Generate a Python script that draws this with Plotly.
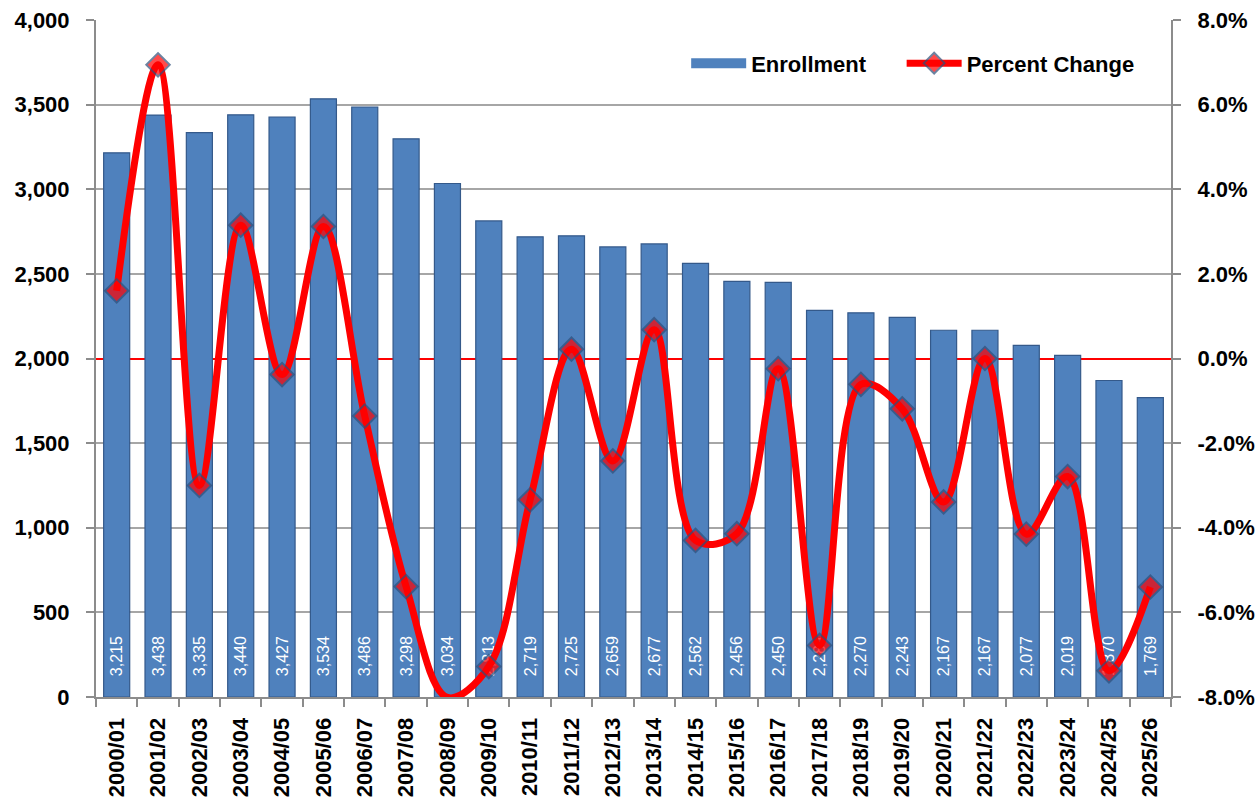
import plotly.graph_objects as go

years = ["2000/01", "2001/02", "2002/03", "2003/04", "2004/05", "2005/06", "2006/07",
         "2007/08", "2008/09", "2009/10", "2010/11", "2011/12", "2012/13", "2013/14",
         "2014/15", "2015/16", "2016/17", "2017/18", "2018/19", "2019/20", "2020/21",
         "2021/22", "2022/23", "2023/24", "2024/25", "2025/26"]
enrollment = [3215, 3438, 3335, 3440, 3427, 3534, 3486, 3298, 3034, 2813, 2719, 2725,
              2659, 2677, 2562, 2456, 2450, 2284, 2270, 2243, 2167, 2167, 2077, 2019,
              1870, 1769]
pct_change = [1.6, 6.94, -3.0, 3.15, -0.38, 3.12, -1.36, -5.39, -8.01, -7.28, -3.34, 0.22,
              -2.42, 0.68, -4.30, -4.14, -0.24, -6.78, -0.61, -1.19, -3.39, 0.0, -4.15,
              -2.79, -7.38, -5.40]
left_ticks = [0, 500, 1000, 1500, 2000, 2500, 3000, 3500, 4000]
right_ticks = [-8, -6, -4, -2, 0, 2, 4, 6, 8]
right_labels = ["-8.0%", "-6.0%", "-4.0%", "-2.0%", "0.0%", "2.0%", "4.0%", "6.0%", "8.0%"]

FONT = "Liberation Sans, Arial, sans-serif"
Y2_MIN, Y2_MAX = -8, 8
BAR_COLOR = "#4F81BD"
NBSP = "\u00a0"

fig = go.Figure()
fig.add_trace(go.Bar(
    x=years, y=enrollment, name="Enrollment", showlegend=False, legendgroup="enr",
    marker=dict(color=BAR_COLOR, line=dict(color="#34598A", width=1.2)),
    width=0.63,
    text=[NBSP * 4 + f"{v:,}" for v in enrollment],
    textposition="inside", insidetextanchor="start", textangle=-90,
    textfont=dict(color="white", size=16, family=FONT),
    constraintext="none",
    yaxis="y",
))
# legend entry styled as a wide bar swatch
fig.add_trace(go.Scatter(
    x=[None], y=[None], name="Enrollment" + NBSP * 5, legendgroup="enr", mode="lines",
    line=dict(color=BAR_COLOR, width=12), yaxis="y",
))
fig.add_trace(go.Scatter(
    x=years, y=pct_change, name="Percent Change", yaxis="y2",
    mode="lines+markers",
    line=dict(color="#FF0000", width=7, shape="spline", smoothing=1),
    marker=dict(symbol="diamond", size=[0 if v < Y2_MIN else 18 for v in pct_change],
                color="#FF0000", line=dict(color="#2F4F7A", width=2)),
))

fig.update_layout(
    width=1257, height=800,
    margin=dict(l=96, r=86, t=20, b=103),
    plot_bgcolor="white", paper_bgcolor="white",
    font=dict(family=FONT, size=22, color="black"),
    showlegend=True,
    legend=dict(orientation="h", x=0.549, xanchor="left", y=0.967, yanchor="top",
                font=dict(size=22, family=FONT, color="black", weight="bold"),
                bgcolor="rgba(0,0,0,0)", traceorder="normal", itemwidth=55),
    xaxis=dict(
        type="category", tickangle=-90, range=[-0.5, len(years) - 0.5],
        tickfont=dict(size=22, family=FONT, weight="bold"),
        showline=True, linecolor="#8C8C8C", linewidth=2,
        ticks="outside", tickson="boundaries", ticklen=8, tickcolor="#8C8C8C",
        tickwidth=2, ticklabelstandoff=10, automargin=False,
        showgrid=False,
    ),
    yaxis=dict(
        range=[0, 4000], tickvals=left_ticks, tickformat=",d",
        tickfont=dict(size=22, family=FONT, weight="bold"),
        showline=True, linecolor="#8C8C8C", linewidth=2,
        showgrid=True, gridcolor="#A6A6A6", gridwidth=1.5,
        ticks="outside", ticklen=8, tickcolor="#8C8C8C", tickwidth=2,
        ticklabelstandoff=12, automargin=False,
        zeroline=False,
    ),
    yaxis2=dict(
        overlaying="y", side="right", range=[Y2_MIN, Y2_MAX],
        tickvals=right_ticks, ticktext=right_labels,
        tickfont=dict(size=22, family=FONT, weight="bold"),
        showline=True, linecolor="#8C8C8C", linewidth=2,
        showgrid=False, ticks="outside", ticklen=8, tickcolor="#8C8C8C", tickwidth=2,
        ticklabelstandoff=12, automargin=False,
        zeroline=True, zerolinecolor="#FF0000", zerolinewidth=1.5,
    ),
)

fig.write_html("out.html", config={"displayModeBar": False},
               post_script="document.body.style.margin='0';")
